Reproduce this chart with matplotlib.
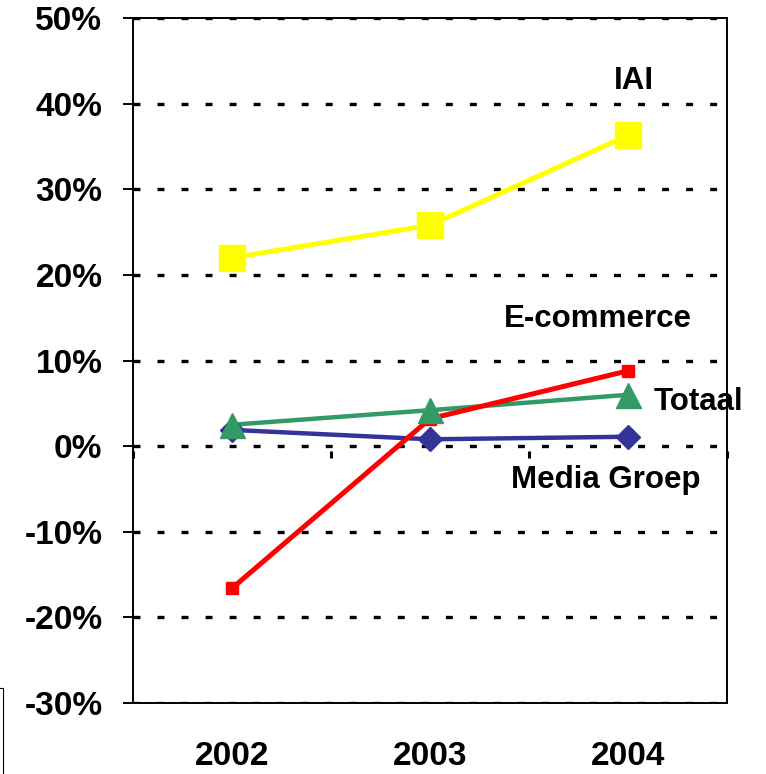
import matplotlib
matplotlib.use("Agg")
import matplotlib.pyplot as plt
from matplotlib.lines import Line2D
from matplotlib.ticker import FuncFormatter

plt.rcParams['font.family'] = ['Liberation Sans', 'DejaVu Sans']
plt.rcParams['font.weight'] = 'bold'
plt.rcParams['lines.scale_dashes'] = False

years = ["2002", "2003", "2004"]
iai = [22.0, 25.8, 36.3]
ecommerce = [-16.6, 3.2, 8.8]
totaal = [2.5, 4.2, 6.0]
media_groep = [1.9, 0.8, 1.1]

yticks = [-30, -20, -10, 0, 10, 20, 30, 40, 50]

fig = plt.figure(figsize=(7.66, 7.74), dpi=100)
ax = fig.add_axes([0.1736, 0.0917, 0.7755, 0.885])

x = range(len(years))

# dashed horizontal grid, dash ~7px, period ~24px
for yv in yticks:
    gl = ax.axhline(yv, color="black", lw=2.4, zorder=1)
    gl.set_dashes([5, 12.3])
    gl.set_dash_capstyle("butt")

# lines first, markers afterwards (as in the original)
ax.plot(x, media_groep, color="#333399", lw=3.2, zorder=3)
ax.plot(x, totaal, color="#339966", lw=3.2, zorder=3)
ax.plot(x, ecommerce, color="#ff0000", lw=3.6, zorder=3)
ax.plot(x, iai, color="#ffff00", lw=3.6, zorder=3)

ax.plot(x, media_groep, ls="none", marker="D", ms=12.5, color="#333399", zorder=4)
ax.plot(x, ecommerce, ls="none", marker="s", ms=8.5, color="#ff0000", zorder=4)
ax.plot(x, totaal, ls="none", marker="^", ms=18, color="#339966", zorder=5)
ax.plot(x, iai, ls="none", marker="s", ms=19, color="#ffff00", zorder=5)

ax.set_xlim(-0.5, 2.5)
ax.set_ylim(-30, 50)
ax.set_yticks(yticks)
ax.yaxis.set_major_formatter(FuncFormatter(lambda v, p: f"{v:.0f}%"))
ax.set_xticks(list(x))
ax.set_xticklabels(years)

ax.tick_params(axis="x", length=0, pad=27, labelsize=24)
ax.tick_params(axis="y", direction="out", length=7, width=1.4, pad=15, labelsize=24)
for lab in ax.get_xticklabels() + ax.get_yticklabels():
    lab.set_fontweight("bold")

for s in ax.spines.values():
    s.set_linewidth(1.4)
    s.set_color("black")

# small category separators just under the 0% line
sec = ax.secondary_xaxis(29.4 / 80)
sec.set_xticks([-0.5, 0.5, 1.5, 2.5])
sec.tick_params(axis="x", direction="out", length=5, width=2.2, labelbottom=False,
                labeltop=False, bottom=True, top=False, pad=0)
sec.spines["bottom"].set_visible(False)
sec.spines["top"].set_visible(False)

# series labels
ax.text(2.03, 42.6, "IAI", ha="center", va="center", fontsize=22.5, fontweight="bold")
ax.text(1.85, 14.8, "E-commerce", ha="center", va="center", fontsize=22.5, fontweight="bold")
ax.text(2.13, 5.1, "Totaal", ha="left", va="center", fontsize=22.5, fontweight="bold")
ax.text(1.89, -3.9, "Media Groep", ha="center", va="center", fontsize=22.5, fontweight="bold")

# stray frame edge at bottom-left of the original image
fig.add_artist(Line2D([0.004, 0.004], [0.0, 0.111], color="black", lw=0.8))
fig.add_artist(Line2D([0.0, 0.004], [0.111, 0.111], color="black", lw=0.8))

fig.savefig("out.png", dpi=100)
